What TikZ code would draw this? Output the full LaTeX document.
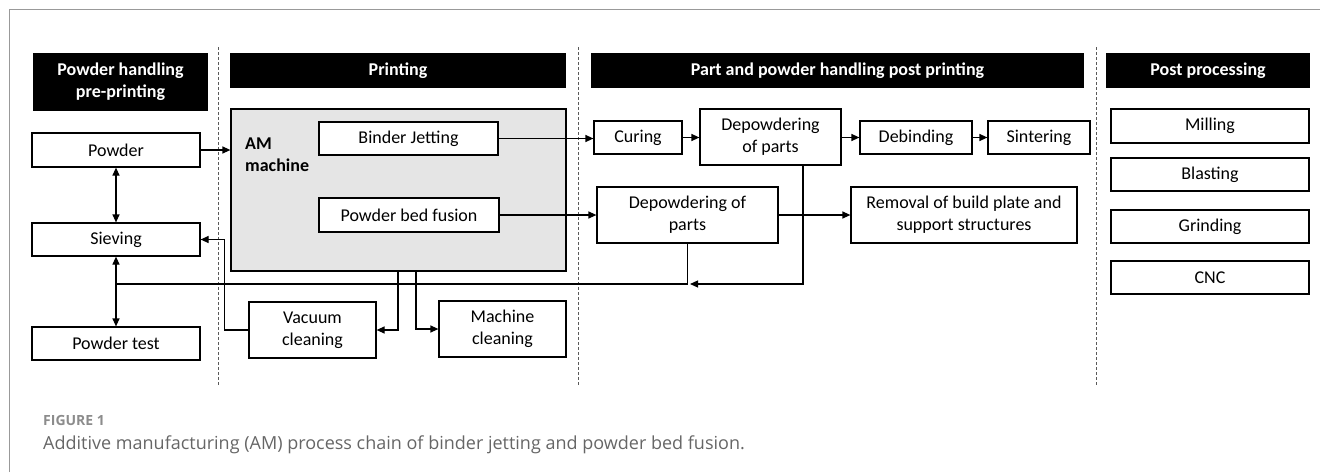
\documentclass[tikz,border=0pt]{standalone}
\usepackage{fontspec}
\setmainfont{Carlito}
\newfontfamily\capfont{Open Sans}
\usetikzlibrary{arrows.meta}

\begin{document}
\begin{tikzpicture}[x=1pt,y=-1pt,
  procbox/.style={draw,line width=1.2pt,fill=white,inner sep=0pt,align=center,font=\fontsize{18}{22}\selectfont},
  headbox/.style={fill=black,text=white,inner sep=0pt,align=center,font=\fontsize{18}{22}\selectfont\bfseries},
  flow/.style={line width=1.2pt,-{Triangle[length=8pt,width=7pt]}},
  flowboth/.style={line width=1.2pt,{Triangle[length=8pt,width=7pt]}-{Triangle[length=8pt,width=7pt]}},
  divider/.style={line width=0.9pt,gray!70!black,dash pattern=on 3pt off 2pt}]
\useasboundingbox (0,0) rectangle (1320,472);
\draw[gray!80,line width=1pt] (9,472) -- (9,9) -- (1320,9);
\foreach \x in {218,578,1096}{
  \draw[divider] (\x,47) -- (\x,385);
}
% column headers
\node[headbox,minimum width=175pt,minimum height=58pt] (hdpre) at (120.5,82) {Powder handling\\pre-printing};
\node[headbox,minimum width=336pt,minimum height=35pt] (hdprint) at (398,70.5) {Printing};
\node[headbox,minimum width=493pt,minimum height=35pt] (hdpost) at (837.5,70.5) {Part and powder handling post printing};
\node[headbox,minimum width=204pt,minimum height=35pt] (hdproc) at (1208,70.5) {Post processing};
% powder handling
\node[procbox,minimum width=168pt,minimum height=34pt] (powder) at (116,150) {Powder};
\node[procbox,minimum width=168pt,minimum height=33pt] (sieving) at (116,239.5) {Sieving};
\node[procbox,minimum width=168pt,minimum height=33pt] (ptest) at (116,343.5) {Powder test};
% printing
\node[procbox,fill=gray!20,minimum width=335pt,minimum height=162pt] (am) at (398.5,190) {};
\node[anchor=west,align=left,inner sep=0pt,font=\fontsize{18}{22}\selectfont\bfseries] (amlabel) at (245,155) {AM\\machine};
\node[procbox,minimum width=179pt,minimum height=33pt] (bj) at (408.5,138.5) {Binder Jetting};
\node[procbox,minimum width=180pt,minimum height=34pt] (pbf) at (409,215) {Powder bed fusion};
\node[procbox,minimum width=127pt,minimum height=56pt] (vac) at (312.5,330) {Vacuum\\cleaning};
\node[procbox,minimum width=127pt,minimum height=56pt] (mach) at (502.5,329) {Machine\\cleaning};
% post printing
\node[procbox,minimum width=88pt,minimum height=33pt] (cur) at (638,137.5) {Curing};
\node[procbox,minimum width=141pt,minimum height=56pt] (dep1) at (770.5,137) {Depowdering\\of parts};
\node[procbox,minimum width=112pt,minimum height=33pt] (deb) at (916,137.5) {Debinding};
\node[procbox,minimum width=102pt,minimum height=33pt] (sint) at (1039,137.5) {Sintering};
\node[procbox,minimum width=181pt,minimum height=56pt] (dep2) at (687.5,215) {Depowdering of\\parts};
\node[procbox,minimum width=226pt,minimum height=56pt] (rem) at (964,215) {Removal of build plate and\\support structures};
% post processing
\node[procbox,minimum width=198pt,minimum height=34pt] (mill) at (1210,126) {Milling};
\node[procbox,minimum width=198pt,minimum height=33pt] (blast) at (1210,174.5) {Blasting};
\node[procbox,minimum width=198pt,minimum height=33pt] (grind) at (1210,226.5) {Grinding};
\node[procbox,minimum width=198pt,minimum height=33pt] (cnc) at (1210,277.5) {CNC};
% connectors
\coordinate (jn) at (116,284);
\coordinate (jd) at (690,284);
\draw[flow] (powder) -- (powder -| am.west);
\draw[flowboth] (powder) -- (sieving);
\draw[flowboth] (sieving) -- (ptest);
\draw[line width=1.2pt] (jn) -| (dep2.south);
\draw[flow] ([xshift=32.5pt]dep1.south) |- (jd);
\draw[flow] ([xshift=-0.5pt]am.south) |- (vac.east);
\draw[flow] ([xshift=17.5pt]am.south) |- (mach.west);
\draw[flow] (vac.west) -- ++(-24,0) |- (sieving.east);
\draw[flow] (bj) -- (bj -| cur.west);
\draw[flow] (cur) -- (cur -| dep1.west);
\draw[flow] (deb.west -| dep1.east) -- (deb.west);
\draw[flow] (deb) -- (sint);
\draw[flow] (pbf) -- (pbf -| dep2.west);
\draw[flow] (dep2) -- (rem);
% caption
\node[anchor=base west,inner sep=0pt,text=gray!90,font=\capfont\fontsize{14}{16}\selectfont\bfseries] (figlabel) at (43,425) {FIGURE 1};
\node[anchor=base west,inner sep=0pt,text=black!60,font=\capfont\fontsize{18}{20}\selectfont] (figcap) at (43,449) {Additive manufacturing (AM) process chain of binder jetting and powder bed fusion.};
\end{tikzpicture}
\end{document}
